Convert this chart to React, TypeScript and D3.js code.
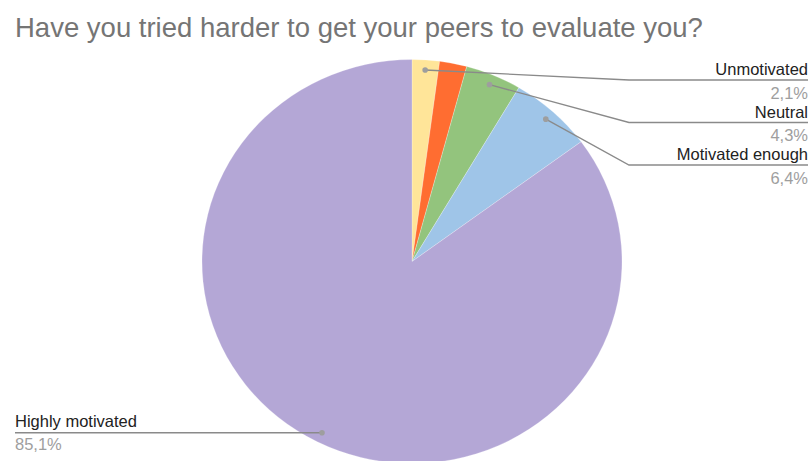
import React from "react";
import * as d3 from "d3";

const title = "Have you tried harder to get your peers to evaluate you?";
const categories = ["Unmotivated", "Very unmotivated", "Neutral", "Motivated enough", "Highly motivated"];
const values = [2.1, 2.1, 4.3, 6.4, 85.1];
const percentLabels = ["2,1%", "2,1%", "4,3%", "6,4%", "85,1%"];
const showLabel = [true, false, true, true, true];
const colors = ["#FFE599", "#FF6D31", "#93C47D", "#9FC5E8", "#B4A7D6"];

const W = 810;
const H = 461;
const cx = 412;
const cy = 261.5;
const rx = 210;
const ry = 202;
const FONT = "'Liberation Sans', Arial, sans-serif";

export default function App() {
  const pie = d3.pie<number>().sort(null).value((d) => d);
  const arcs = pie(values);
  const arc = d3.arc<d3.PieArcDatum<number>>().innerRadius(0).outerRadius(rx);

  const dot = (a: d3.PieArcDatum<number>) => {
    const m = (a.startAngle + a.endAngle) / 2;
    return [cx + 0.95 * rx * Math.sin(m), cy - 0.95 * ry * Math.cos(m)];
  };

  const rightRowY0 = 80;
  const rightRowStep = 42.5;
  let rightIdx = 0;

  const labels: React.ReactNode[] = [];
  arcs.forEach((a, i) => {
    if (!showLabel[i]) return;
    const [dx, dy] = dot(a);
    const mid = (a.startAngle + a.endAngle) / 2;
    if (mid < Math.PI) {
      const ly = rightRowY0 + rightIdx * rightRowStep;
      rightIdx++;
      labels.push(
        <g key={i}>
          <polyline
            points={`${dx},${dy} 629,${ly} 808,${ly}`}
            fill="none"
            stroke="#8a8a8a"
            strokeWidth={1.3}
          />
          <circle cx={dx} cy={dy} r={2.8} fill="#9e9e9e" />
          <text x={808} y={ly - 5} textAnchor="end" fontSize={16.5} fill="#222" fontFamily={FONT}>
            {categories[i]}
          </text>
          <text x={808} y={ly + 18.5} textAnchor="end" fontSize={16.5} fill="#9e9e9e" fontFamily={FONT}>
            {percentLabels[i]}
          </text>
        </g>
      );
    } else {
      const ly = dy;
      labels.push(
        <g key={i}>
          <polyline points={`${dx},${dy} 15,${ly}`} fill="none" stroke="#8a8a8a" strokeWidth={1.3} />
          <circle cx={dx} cy={dy} r={2.8} fill="#9e9e9e" />
          <text x={15} y={ly - 6} textAnchor="start" fontSize={16.5} fill="#222" fontFamily={FONT}>
            {categories[i]}
          </text>
          <text x={15} y={ly + 17.5} textAnchor="start" fontSize={16.5} fill="#9e9e9e" fontFamily={FONT}>
            {percentLabels[i]}
          </text>
        </g>
      );
    }
  });

  return (
    <svg
      width={W}
      height={H}
      style={{ position: "absolute", left: 0, top: 0, background: "#fff" }}
    >
      <rect x={0} y={0} width={W} height={H} fill="#fff" />
      <text x={15} y={37} fontSize={27.5} fill="#757575" fontFamily={FONT}>
        {title}
      </text>
      <g transform={`translate(${cx},${cy}) scale(1,${ry / rx})`}>
        {arcs.map((a, i) => (
          <path key={i} d={arc(a) || ""} fill={colors[i]} stroke="#fff" strokeWidth={0.25} />
        ))}
      </g>
      {labels}
    </svg>
  );
}
